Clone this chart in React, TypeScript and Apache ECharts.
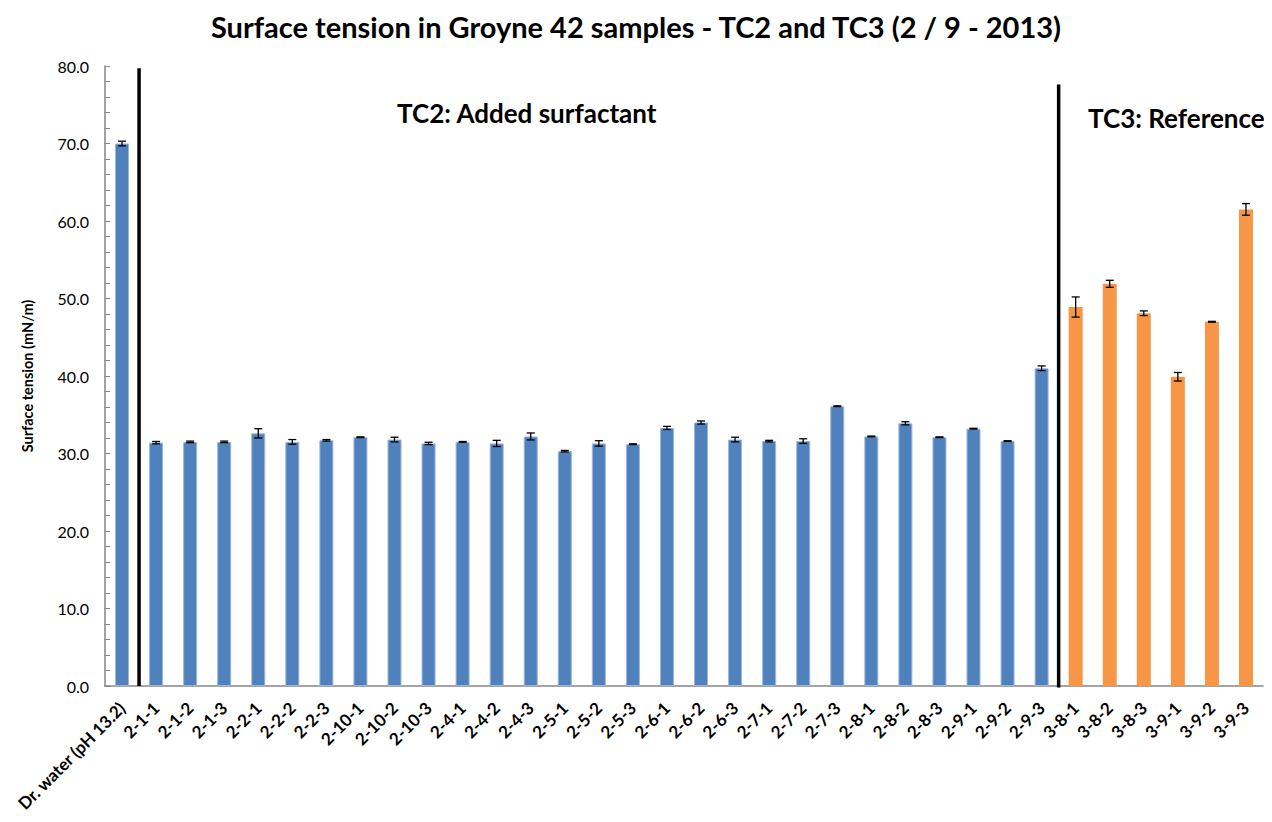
import React, { useEffect, useRef } from "react";
import * as echarts from "echarts";

const categories = [
  "Dr. water (pH 13.2)", "2-1-1", "2-1-2", "2-1-3", "2-2-1", "2-2-2", "2-2-3",
  "2-10-1", "2-10-2", "2-10-3", "2-4-1", "2-4-2", "2-4-3", "2-5-1", "2-5-2", "2-5-3",
  "2-6-1", "2-6-2", "2-6-3", "2-7-1", "2-7-2", "2-7-3", "2-8-1", "2-8-2", "2-8-3",
  "2-9-1", "2-9-2", "2-9-3", "3-8-1", "3-8-2", "3-8-3", "3-9-1", "3-9-2", "3-9-3",
];

// Dr. water + TC2 samples (blue)
const tc2Values = [
  70.0, 31.4, 31.5, 31.5, 32.6, 31.5, 31.7, 32.1, 31.8, 31.3, 31.5, 31.3, 32.2, 30.3,
  31.3, 31.2, 33.3, 34.0, 31.8, 31.6, 31.6, 36.1, 32.2, 33.9, 32.1, 33.2, 31.6, 41.0,
];
// TC3 reference samples (orange)
const tc3Values = [48.9, 51.9, 48.1, 39.9, 47.0, 61.5];

// standard deviation (error bars), same order as categories
const errors = [
  0.3, 0.15, 0.1, 0.1, 0.6, 0.3, 0.1, 0.05, 0.3, 0.15, 0.05, 0.4, 0.45, 0.1, 0.35, 0.05,
  0.2, 0.2, 0.3, 0.1, 0.3, 0.05, 0.05, 0.2, 0.05, 0.05, 0.05, 0.3, 1.3, 0.45, 0.3, 0.55,
  0.05, 0.75,
];

const yTicks = [0, 10, 20, 30, 40, 50, 60, 70, 80];
const separatorTops = [79.7, 77.6];

const FONT = "Lato, 'Open Sans', sans-serif";

export default function App() {
  const ref = useRef<HTMLDivElement>(null);
  useEffect(() => {
    if (!ref.current) return;
    const chart = echarts.init(ref.current, null, { renderer: "svg" });
    const allValues = [...tc2Values, ...tc3Values];
    const blueData = categories.map((_, i) => (i < tc2Values.length ? tc2Values[i] : "-"));
    const orangeData = categories.map((_, i) =>
      i < tc2Values.length ? "-" : tc3Values[i - tc2Values.length]
    );
    const errData = categories.map((_, i) => [i, allValues[i] - errors[i], allValues[i] + errors[i]]);
    const sepA = categories.indexOf("2-1-1") - 0.5;
    const sepB = categories.indexOf("3-8-1") - 0.5;

    const sepStyle = { color: "#000", width: 3.5 };

    chart.setOption({
      animation: false,
      backgroundColor: "#ffffff",
      textStyle: { fontFamily: FONT },
      title: {
        text: "Surface tension in Groyne 42 samples - TC2 and TC3 (2 / 9 - 2013)",
        left: "center",
        top: 7,
        textStyle: { fontFamily: FONT, fontWeight: "bold", fontSize: 29, color: "#000" },
      },
      grid: { left: 105, right: 9, top: 66, bottom: 136, containLabel: false },
      xAxis: [
        {
          type: "category",
          data: categories,
          axisLine: { lineStyle: { color: "#868686", width: 1.5 } },
          axisTick: { show: false },
          axisLabel: {
            rotate: 45,
            interval: 0,
            margin: 19,
            fontFamily: FONT,
            fontWeight: "bold",
            fontSize: 17,
            color: "#000",
          },
        },
        { type: "value", min: -0.5, max: categories.length - 0.5, show: false },
      ],
      yAxis: {
        type: "value",
        min: yTicks[0],
        max: yTicks[yTicks.length - 1],
        interval: yTicks[1] - yTicks[0],
        name: "Surface tension (mN/m)",
        nameLocation: "middle",
        nameGap: 70,
        nameTextStyle: { fontFamily: FONT, fontWeight: "bold", fontSize: 14.5, color: "#000" },
        axisLine: { show: true, onZero: false, lineStyle: { color: "#868686", width: 1.5 } },
        axisTick: { show: true, inside: true, length: 5, lineStyle: { color: "#868686" } },
        minorTick: { show: true, splitNumber: 5, length: 5, lineStyle: { color: "#868686" } },
        splitLine: { show: false },
        axisLabel: {
          formatter: (v: number) => v.toFixed(1),
          fontFamily: FONT,
          fontSize: 16,
          color: "#000",
          margin: 16,
        },
      },
      series: [
        {
          type: "bar",
          data: blueData,
          barWidth: 14,
          barGap: "-100%",
          itemStyle: { color: "#4F81BD", borderColor: "#9BB7DD", borderWidth: 1 },
        },
        {
          type: "bar",
          data: orangeData,
          barWidth: 14,
          barGap: "-100%",
          itemStyle: { color: "#F79646" },
        },
        {
          type: "custom",
          data: errData,
          encode: { x: 0, y: [1, 2] },
          z: 10,
          renderItem: (params: any, api: any) => {
            const x = api.value(0);
            const lo = api.coord([x, api.value(1)]);
            const hi = api.coord([x, api.value(2)]);
            const w = 4;
            const style = { stroke: "#000", lineWidth: 1.3 };
            return {
              type: "group",
              children: [
                { type: "line", shape: { x1: lo[0], y1: lo[1], x2: hi[0], y2: hi[1] }, style },
                { type: "line", shape: { x1: lo[0] - w, y1: lo[1], x2: lo[0] + w, y2: lo[1] }, style },
                { type: "line", shape: { x1: hi[0] - w, y1: hi[1], x2: hi[0] + w, y2: hi[1] }, style },
              ],
            };
          },
        },
        {
          type: "line",
          xAxisIndex: 1,
          yAxisIndex: 0,
          data: [[sepA, 0], [sepA, separatorTops[0]]],
          symbol: "none",
          clip: false,
          lineStyle: sepStyle,
          z: 5,
        },
        {
          type: "line",
          xAxisIndex: 1,
          yAxisIndex: 0,
          data: [[sepB, -0.2], [sepB, separatorTops[1]]],
          symbol: "none",
          clip: false,
          lineStyle: sepStyle,
          z: 5,
        },
      ],
      graphic: [
        {
          type: "text",
          left: 397,
          top: 100,
          style: {
            text: "TC2: Added surfactant",
            fontFamily: FONT,
            fontWeight: "bold",
            fontSize: 26,
            fill: "#000",
          },
        },
        {
          type: "text",
          left: 1088,
          top: 105,
          style: {
            text: "TC3: Reference",
            fontFamily: FONT,
            fontWeight: "bold",
            fontSize: 26,
            fill: "#000",
          },
        },
      ],
    });
    return () => chart.dispose();
  }, []);
  return <div ref={ref} style={{ width: 1272, height: 822, margin: -8 }} />;
}
